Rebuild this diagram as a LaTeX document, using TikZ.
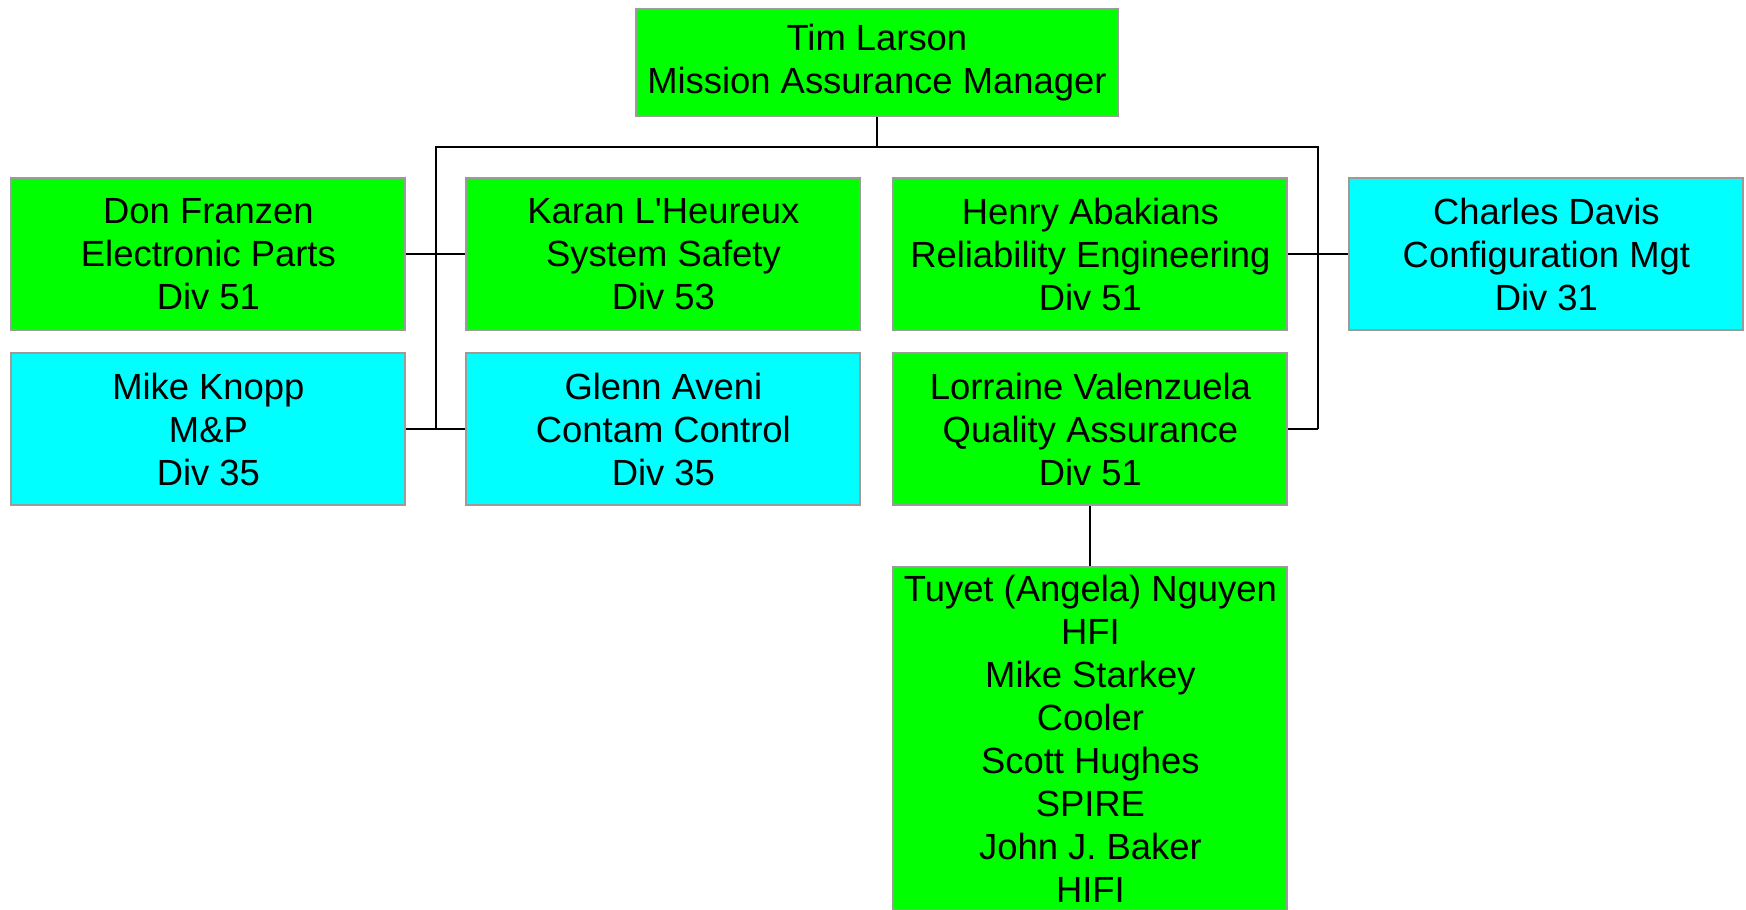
\documentclass[tikz,border=0pt]{standalone}
\usepackage{fontspec}
\setmainfont{Liberation Sans}
\usepackage{tikz}
\usetikzlibrary{matrix,positioning,calc}

\definecolor{boxgreen}{RGB}{0,255,0}
\definecolor{boxcyan}{RGB}{0,255,255}
\definecolor{boxline}{RGB}{155,155,155}

\tikzset{
  unit/.style={draw=boxline, line width=1pt, align=center, inner sep=1pt,
    minimum width=197pt, minimum height=76pt,
    font=\fontsize{18.2pt}{21.5pt}\selectfont},
  grn/.style={unit, fill=boxgreen},
  cyn/.style={unit, fill=boxcyan},
  conn/.style={draw=black, line width=1pt}
}

\begin{document}
\begin{tikzpicture}
  \useasboundingbox (0,0) rectangle (873pt,-455pt);
  \matrix (m) [inner sep=0pt, column sep=0pt, row sep=0pt,
    anchor=north west] at (5pt,-88.5pt)
  {
    \node[grn] (don) {Don Franzen\\Electronic Parts\\Div 51}; &[29.5pt]
    \node[grn] (karan) {Karan L\textquotesingle Heureux\\System Safety\\Div 53}; &[15.5pt]
    \node[grn] (henry) {Henry Abakians\\Reliability Engineering\\Div 51}; &[30pt]
    \node[cyn] (charles) {Charles Davis\\Configuration Mgt\\Div 31}; \\[10.5pt]
    \node[cyn] (mike) {Mike Knopp\\M\&P\\Div 35}; &
    \node[cyn] (glenn) {Glenn Aveni\\Contam Control\\Div 35}; &
    \node[grn] (lorraine) {Lorraine Valenzuela\\Quality Assurance\\Div 51}; & \\[30pt]
    & & \node[grn, minimum height=171.5pt] (tuyet) {Tuyet (Angela) Nguyen\\HFI\\Mike Starkey\\Cooler\\Scott Hughes\\SPIRE\\John J. Baker\\HIFI}; & \\
  };
  \coordinate (mid) at ($(karan.north)!0.5!(henry.north)$);
  \node[grn, minimum width=241pt, minimum height=53.5pt, above=30pt of mid] (top)
    {Tim Larson\\Mission Assurance Manager};
  % bus and side branches
  \coordinate (bus) at ($(top.south)!0.5!(mid)$);
  \coordinate (gl) at ($(don.east)!0.5!(karan.west)$);
  \coordinate (gr) at ($(henry.east)!0.5!(charles.west)$);
  \path[conn] (top.south) edge (top.south |- bus);
  \draw[conn] (gl |- mike.east) -- (gl |- bus) -- (gr |- bus) -- (gr |- lorraine.east);
  \path[conn]
  (don) edge (karan)
  (mike) edge (glenn)
  (henry) edge (charles)
  (lorraine.east) edge (gr |- lorraine.east)
  (lorraine) edge (tuyet)
  ;
\end{tikzpicture}
\end{document}
